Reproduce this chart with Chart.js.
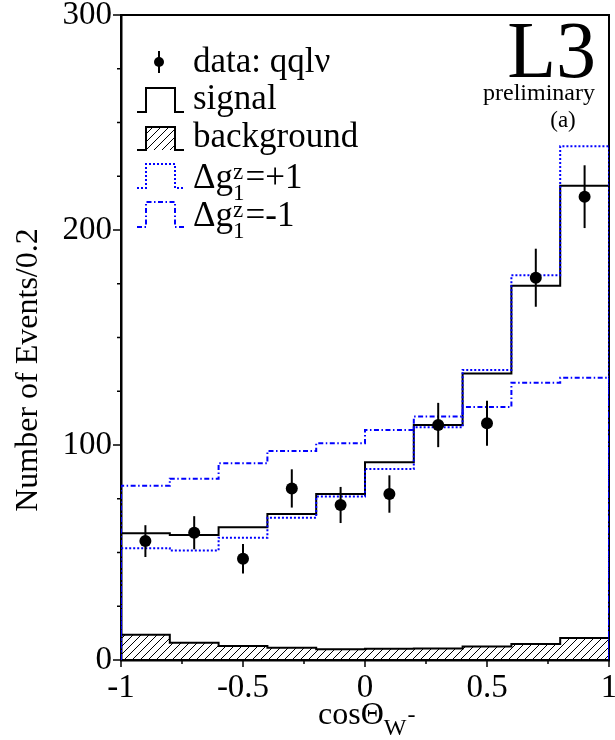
<!DOCTYPE html>
<html>
<head>
<meta charset="utf-8">
<script src="https://cdn.jsdelivr.net/npm/chart.js@4.4.1/dist/chart.umd.min.js"></script>
<style>
  html, body { margin: 0; padding: 0; background: #fff; }
  #wrap { width: 615px; height: 740px; }
</style>
</head>
<body>
<div id="wrap"><canvas id="chart" width="615" height="740"></canvas></div>
<script>
// bins of cos(theta_W-), width 0.2
const binEdges = [-1, -0.8, -0.6, -0.4, -0.2, 0, 0.2, 0.4, 0.6, 0.8, 1];
const binCenters = [-0.9, -0.7, -0.5, -0.3, -0.1, 0.1, 0.3, 0.5, 0.7, 0.9];

// histograms (events per bin)
const signal = [58.9, 58.1, 61.7, 67.9, 77.2, 92.0, 109.3, 133.3, 174.1, 220.6];
const dg1Plus = [52.0, 50.9, 56.9, 66.2, 76.0, 88.8, 108.2, 134.9, 179.0, 239.0];
const dg1Minus = [81.1, 84.3, 91.5, 97.2, 100.8, 107.0, 113.2, 117.7, 129.0, 131.3];
const background = [11.8, 8.0, 6.5, 5.7, 5.0, 5.2, 5.3, 6.3, 7.4, 10.2];

// data: qqlv
const dataVals = [55.3, 59.2, 47.1, 79.8, 72.1, 77.2, 109.3, 110.1, 177.8, 215.5];
const dataErr = [7.4, 7.7, 6.9, 8.9, 8.4, 8.7, 10.3, 10.5, 13.5, 14.6];

// axes
const xTickLabels = { "-1": "-1", "-0.5": "-0.5", "0": "0", "0.5": "0.5", "1": "1" };
const yTickLabels = { "0": "0", "100": "100", "200": "200", "300": "300" };
const xMinorStep = 0.25;
const yMinorStep = 25;

const SERIF = "'Liberation Serif', 'DejaVu Serif', serif";
const BLUE = "#0000ff";
const DOTTED = [2, 2];
const DASHDOT = [5, 2.5, 1.5, 2.5];

// points at bin edges; with chart.js stepped "after" the vertical comes first,
// so each bin takes the value of its right edge point
function histPoints(values) {
  const pts = [{ x: binEdges[0], y: 0 }, { x: binEdges[0], y: values[0] }];
  values.forEach((v, i) => pts.push({ x: binEdges[i + 1], y: v }));
  pts.push({ x: binEdges[binEdges.length - 1], y: 0 });
  return pts;
}

function makeHatch(ctx) {
  const c = document.createElement("canvas");
  c.width = 8;
  c.height = 8;
  const g = c.getContext("2d");
  g.strokeStyle = "#000";
  g.lineWidth = 1;
  g.beginPath();
  g.moveTo(-2, 10); g.lineTo(10, -2);
  g.moveTo(-6, 6); g.lineTo(6, -6);
  g.moveTo(2, 14); g.lineTo(14, 2);
  g.stroke();
  return ctx.createPattern(c, "repeat");
}

const canvas = document.getElementById("chart");
const hatch = makeHatch(canvas.getContext("2d"));

// frame, tick marks, error bars
const decorPlugin = {
  id: "decor",
  beforeDatasetsDraw(chart) {
    const { ctx, chartArea: a } = chart;
    const xs = chart.scales.x, ys = chart.scales.y;
    ctx.save();
    ctx.strokeStyle = "#000";
    ctx.lineWidth = 2;
    ctx.beginPath();
    ctx.moveTo(a.left, a.top);
    ctx.lineTo(a.right, a.top);
    ctx.lineTo(a.right, a.bottom);
    ctx.stroke();
    // y ticks (outside, left)
    ctx.lineWidth = 1.5;
    for (let v = ys.min; v <= ys.max + 1e-9; v += yMinorStep) {
      const py = ys.getPixelForValue(v);
      const major = yTickLabels[String(v)] !== undefined;
      ctx.beginPath();
      ctx.moveTo(a.left, py);
      ctx.lineTo(a.left - (major ? 8 : 4), py);
      ctx.stroke();
    }
    // x ticks (outside, below)
    for (let i = 0; i <= Math.round((xs.max - xs.min) / xMinorStep); i++) {
      const v = xs.min + i * xMinorStep;
      const px = xs.getPixelForValue(v);
      const major = Math.abs(v * 2 - Math.round(v * 2)) < 1e-9;
      ctx.beginPath();
      ctx.moveTo(px, a.bottom);
      ctx.lineTo(px, a.bottom + (major ? 7 : 4));
      ctx.stroke();
    }
    ctx.restore();
  },
  afterDatasetsDraw(chart) {
    const { ctx } = chart;
    const xs = chart.scales.x, ys = chart.scales.y;
    ctx.save();
    ctx.strokeStyle = "#000";
    ctx.lineWidth = 2;
    binCenters.forEach((c, i) => {
      const px = xs.getPixelForValue(c);
      ctx.beginPath();
      ctx.moveTo(px, ys.getPixelForValue(dataVals[i] - dataErr[i]));
      ctx.lineTo(px, ys.getPixelForValue(dataVals[i] + dataErr[i]));
      ctx.stroke();
    });
    ctx.restore();
  },
  afterDraw(chart) {
    const { ctx } = chart;
    ctx.save();
    ctx.fillStyle = "#000";
    ctx.textBaseline = "alphabetic";

    // axis titles
    ctx.font = "32px " + SERIF;
    ctx.textAlign = "left";
    let x = 318;
    ctx.fillText("cosΘ", x, 724);
    x += ctx.measureText("cosΘ").width;
    ctx.font = "24px " + SERIF;
    ctx.fillText("W", x, 735);
    x += ctx.measureText("W").width;
    ctx.fillText("-", x + 1, 722);

    ctx.save();
    ctx.translate(37, 370);
    ctx.rotate(-Math.PI / 2);
    ctx.font = "32px " + SERIF;
    ctx.textAlign = "center";
    ctx.fillText("Number of Events/0.2", 0, 0);
    ctx.restore();

    // L3 label
    ctx.textAlign = "right";
    ctx.font = "80px " + SERIF;
    ctx.fillText("L3", 596, 77);
    ctx.font = "24px " + SERIF;
    ctx.fillText("preliminary", 595, 100);
    ctx.textAlign = "center";
    ctx.font = "23px " + SERIF;
    ctx.fillText("(a)", 563, 127);

    // legend
    const sx0 = 137, sx1 = 146, sx2 = 175, sx3 = 184, tx = 193;
    ctx.textAlign = "left";
    ctx.font = "35px " + SERIF;
    // data marker
    ctx.lineWidth = 2;
    ctx.strokeStyle = "#000";
    ctx.beginPath();
    ctx.moveTo(159, 51); ctx.lineTo(159, 73);
    ctx.stroke();
    ctx.beginPath();
    ctx.arc(159, 62, 5, 0, Math.PI * 2);
    ctx.fill();
    ctx.fillText("data: qqlν", tx, 72);

    function stepSymbol(top, bottom, color, dash, width) {
      ctx.save();
      ctx.strokeStyle = color;
      ctx.lineWidth = width;
      ctx.setLineDash(dash);
      ctx.beginPath();
      ctx.moveTo(sx0, bottom);
      ctx.lineTo(sx1, bottom);
      ctx.lineTo(sx1, top);
      ctx.lineTo(sx2, top);
      ctx.lineTo(sx2, bottom);
      ctx.lineTo(sx3, bottom);
      ctx.stroke();
      ctx.restore();
    }
    stepSymbol(88, 112, "#000", [], 2);
    ctx.fillText("signal", tx, 109);

    ctx.save();
    ctx.fillStyle = hatch;
    ctx.fillRect(sx1, 127, sx2 - sx1, 23);
    ctx.restore();
    stepSymbol(127, 150, "#000", [], 2);
    ctx.fillText("background", tx, 147);

    function dgLabel(base, sign) {
      let lx = tx;
      ctx.font = "35px " + SERIF;
      ctx.fillText("Δg", lx, base);
      lx += ctx.measureText("Δg").width;
      ctx.font = "23px " + SERIF;
      ctx.fillText("z", lx, base - 9);
      ctx.fillText("1", lx, base + 12);
      lx += ctx.measureText("1").width + 1;
      ctx.font = "35px " + SERIF;
      ctx.fillText("=" + sign, lx, base);
    }
    stepSymbol(164, 188, BLUE, DOTTED, 2);
    dgLabel(188, "+1");
    stepSymbol(202, 227, BLUE, DASHDOT, 2);
    dgLabel(226, "-1");

    ctx.restore();
  }
};

new Chart(canvas, {
  type: "line",
  data: {
    datasets: [
      {
        label: "data: qqlν",
        data: binCenters.map((c, i) => ({ x: c, y: dataVals[i] })),
        showLine: false,
        pointRadius: 6,
        pointBackgroundColor: "#000",
        pointBorderColor: "#000",
        pointBorderWidth: 0
      },
      {
        label: "Δg1z=-1",
        data: histPoints(dg1Minus),
        stepped: "after",
        borderColor: BLUE,
        borderWidth: 2,
        borderDash: DASHDOT,
        pointRadius: 0,
        fill: false
      },
      {
        label: "Δg1z=+1",
        data: histPoints(dg1Plus),
        stepped: "after",
        borderColor: BLUE,
        borderWidth: 2,
        borderDash: DOTTED,
        pointRadius: 0,
        fill: false
      },
      {
        label: "signal",
        data: histPoints(signal),
        stepped: "after",
        borderColor: "#000",
        borderWidth: 2,
        pointRadius: 0,
        fill: false
      },
      {
        label: "background",
        data: histPoints(background),
        stepped: "after",
        borderColor: "#000",
        borderWidth: 2,
        backgroundColor: hatch,
        pointRadius: 0,
        fill: "origin"
      }
    ]
  },
  options: {
    responsive: false,
    animation: false,
    layout: { padding: { top: 15, right: 2, left: 0, bottom: 0 } },
    plugins: {
      legend: { display: false },
      tooltip: { enabled: false }
    },
    scales: {
      x: {
        type: "linear",
        min: -1,
        max: 1,
        grid: { display: false, drawTicks: false },
        border: { display: true, color: "#000", width: 2.5 },
        ticks: {
          stepSize: 0.5,
          autoSkip: false,
          maxRotation: 0,
          padding: 9,
          color: "#000",
          font: { family: SERIF, size: 33 },
          callback: (v) => xTickLabels[String(v)] || ""
        },
        afterFit: (s) => { s.height = 80; s.paddingLeft = 0; s.paddingRight = 0; }
      },
      y: {
        min: 0,
        max: 300,
        grid: { display: false, drawTicks: false },
        border: { display: true, color: "#000", width: 2.5 },
        ticks: {
          stepSize: 100,
          padding: 9,
          color: "#000",
          font: { family: SERIF, size: 33 },
          callback: (v) => yTickLabels[String(v)] || ""
        },
        afterFit: (s) => { s.width = 121; s.paddingTop = 0; s.paddingBottom = 0; }
      }
    }
  },
  plugins: [decorPlugin]
});
</script>
</body>
</html>
